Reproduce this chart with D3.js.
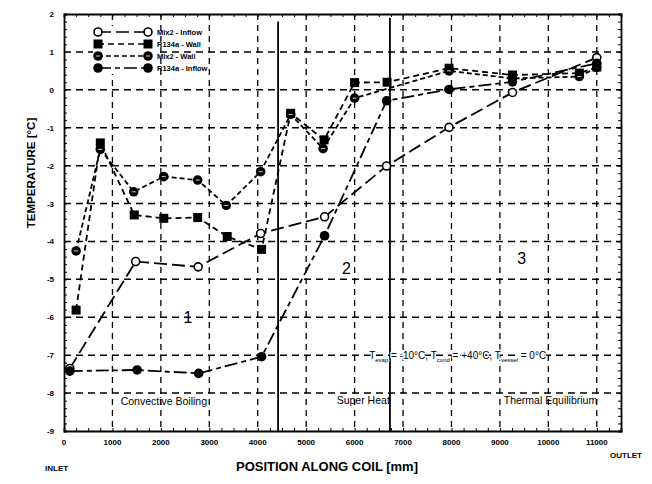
<!DOCTYPE html>
<html>
<head>
  <title>coilTemperature</title>
  <script src="https://d3js.org/d3.v7.min.js"></script>
  <style>
    body { margin: 0; background: #fff; overflow: hidden; }
    svg { display: block; }
    text { font-family: "Liberation Sans", Arial, sans-serif; }
  </style>
</head>
<body>
  <svg width="652" height="484" id="mainsvg"></svg>
  <script>
    // data: [position mm, temperature C]
    const mix2Inflow = [[120,-7.35],[1480,-4.53],[2770,-4.67],[4060,-3.79],[5380,-3.35],[6660,-2.01],[7950,-0.99],[9260,-0.07],[11000,0.85]];
    const r134aWall = [[250,-5.81],[750,-1.40],[1450,-3.30],[2060,-3.39],[2760,-3.37],[3370,-3.87],[4080,-4.21],[4680,-0.62],[5370,-1.32],[6000,0.19],[6670,0.20],[7950,0.57],[9260,0.39],[10640,0.44],[11000,0.60]];
    const mix2Wall = [[250,-4.25],[750,-1.57],[1440,-2.69],[2060,-2.29],[2760,-2.38],[3350,-3.05],[4060,-2.16],[4680,-0.65],[5350,-1.55],[6000,-0.22],[7950,0.50],[9260,0.30],[10640,0.35],[11000,0.59]];
    const r134aInflow = [[120,-7.42],[1510,-7.39],[2780,-7.48],[4080,-7.04],[5380,-3.85],[6660,-0.29],[7950,0.01],[9260,0.21],[11000,0.70]];

    const xTicks = [0,1000,2000,3000,4000,5000,6000,7000,8000,9000,10000,11000];
    const yTicks = [2,1,0,-1,-2,-3,-4,-5,-6,-7,-8,-9];
    const zoneBounds = [4420, 6730];
    const zoneNames = ['Convective Boiling', 'Super Heat', 'Thermal Equilibrium'];
    const zoneNumbers = ['1', '2', '3'];
    const legendNames = ['Mix2 - Inflow', 'R134a - Wall', 'Mix2 - Wall', 'R134a - Inflow'];

    const svg = d3.select('#mainsvg');
    const margin = { top: 14, left: 64, right: 31, bottom: 53 };
    const width = +svg.attr('width');
    const height = +svg.attr('height');
    const innerWidth = width - margin.left - margin.right;
    const innerHeight = height - margin.top - margin.bottom;

    const xScale = d3.scaleLinear().domain([0, 11500]).range([0, innerWidth]);
    const yScale = d3.scaleLinear().domain([-9, 2]).range([innerHeight, 0]);

    const g = svg.append('g').attr('transform', `translate(${margin.left},${margin.top})`);

    // dashed grid
    g.append('g').selectAll('line').data(xTicks.slice(1)).join('line')
      .attr('x1', d => xScale(d)).attr('x2', d => xScale(d))
      .attr('y1', 0).attr('y2', innerHeight)
      .attr('stroke', '#000').attr('stroke-width', 1.3).attr('stroke-dasharray', '6,5');
    g.append('g').selectAll('line').data(yTicks.slice(1, -1)).join('line')
      .attr('x1', 0).attr('x2', innerWidth)
      .attr('y1', d => yScale(d)).attr('y2', d => yScale(d))
      .attr('stroke', '#000').attr('stroke-width', 1.5).attr('stroke-dasharray', '7,5');

    // axes with inward minor ticks, labels drawn separately
    const minorX = d3.range(0, 11501, 250);
    const minorY = d3.range(-9, 2.001, 0.2);
    const noText = sel => sel.selectAll('text').remove();
    g.append('g').attr('transform', `translate(0,${innerHeight})`)
      .call(d3.axisBottom(xScale).tickValues(minorX).tickSize(-3)).call(noText);
    g.append('g').call(d3.axisTop(xScale).tickValues(minorX).tickSize(-3)).call(noText);
    g.append('g').call(d3.axisLeft(yScale).tickValues(minorY).tickSize(-3)).call(noText);
    g.append('g').attr('transform', `translate(${innerWidth},0)`)
      .call(d3.axisRight(yScale).tickValues(minorY).tickSize(-3)).call(noText);
    g.selectAll('.domain').attr('stroke-width', 1.8);

    g.append('g').selectAll('text').data(xTicks).join('text')
      .attr('x', d => xScale(d)).attr('y', innerHeight + 14)
      .attr('text-anchor', 'middle').attr('font-size', 8).attr('font-weight', 'bold')
      .text(d => d);
    g.append('g').selectAll('text').data(yTicks).join('text')
      .attr('x', -10).attr('y', d => yScale(d) + 3)
      .attr('text-anchor', 'end').attr('font-size', 8).attr('font-weight', 'bold')
      .text(d => d);

    // zone boundaries
    g.selectAll('.zone').data(zoneBounds).join('line').attr('class', 'zone')
      .attr('x1', d => xScale(d)).attr('x2', d => xScale(d))
      .attr('y1', (d, i) => yScale(i === 0 ? 1.8 : 1.9)).attr('y2', innerHeight)
      .attr('stroke', '#000').attr('stroke-width', 1.8);

    // series
    const seriesList = [
      { data: mix2Inflow, dash: '13,5', mark: 'open' },
      { data: r134aWall, dash: '6,4', mark: 'square' },
      { data: mix2Wall, dash: '5,3', mark: 'dotted' },
      { data: r134aInflow, dash: '13,4,5,4', mark: 'filled' }
    ];
    const line = d3.line().x(d => xScale(d[0])).y(d => yScale(d[1]));

    function drawMark(sel, mark) {
      if (mark === 'square') {
        sel.append('rect').attr('x', -4.5).attr('y', -4.5).attr('width', 9).attr('height', 9).attr('fill', '#000');
      } else if (mark === 'open') {
        sel.append('circle').attr('r', 4).attr('fill', '#fff').attr('stroke', '#000').attr('stroke-width', 1.6);
      } else if (mark === 'dotted') {
        sel.append('circle').attr('r', 4.8).attr('fill', '#000');
        sel.append('line').attr('x1', -2).attr('x2', 2).attr('stroke', '#fff').attr('stroke-width', 0.8);
      } else {
        sel.append('circle').attr('r', 4.8).attr('fill', '#000');
      }
    }

    seriesList.forEach(s => {
      g.append('path').datum(s.data).attr('d', line)
        .attr('fill', 'none').attr('stroke', '#000').attr('stroke-width', 1.8)
        .attr('stroke-dasharray', s.dash);
    });
    seriesList.forEach(s => {
      g.append('g').selectAll('g').data(s.data).join('g')
        .attr('transform', d => `translate(${xScale(d[0])},${yScale(d[1])})`)
        .each(function () { drawMark(d3.select(this), s.mark); });
    });

    // legend
    const legend = g.append('g').attr('transform', 'translate(34,18)');
    seriesList.forEach((s, i) => {
      const row = legend.append('g').attr('transform', `translate(0,${i * 12})`);
      row.append('rect').attr('x', -5).attr('y', -6).attr('width', 62).attr('height', 12).attr('fill', '#fff');
      row.append('line').attr('x1', 0).attr('x2', 50).attr('stroke', '#000').attr('stroke-width', 1.6)
        .attr('stroke-dasharray', s.dash);
      drawMark(row.append('g'), s.mark);
      drawMark(row.append('g').attr('transform', 'translate(50,0)'), s.mark);
      row.append('text').attr('x', 59).attr('y', 3).attr('font-size', 7.5).attr('font-weight', 'bold')
        .text(legendNames[i]);
    });

    // zone labels
    const zoneNumPos = [[2560, -6.15], [5830, -4.85], [9450, -4.6]];
    g.selectAll('.znum').data(zoneNumbers).join('text').attr('class', 'znum')
      .attr('x', (d, i) => xScale(zoneNumPos[i][0])).attr('y', (d, i) => yScale(zoneNumPos[i][1]))
      .attr('text-anchor', 'middle').attr('font-size', 16).text(d => d);
    const zoneNamePos = [[1170, -8.32], [5630, -8.3], [9080, -8.3]];
    g.selectAll('.zname').data(zoneNames).join('text').attr('class', 'zname')
      .attr('x', (d, i) => xScale(zoneNamePos[i][0])).attr('y', (d, i) => yScale(zoneNamePos[i][1]))
      .attr('font-size', 10.5).text(d => d);

    const cond = g.append('text').attr('x', xScale(6300)).attr('y', yScale(-7.1))
      .attr('font-size', 10).attr('stroke', '#fff').attr('stroke-width', 2.5).attr('paint-order', 'stroke');
    cond.append('tspan').text('T');
    cond.append('tspan').attr('font-size', 6).attr('dy', 3).text('evap');
    cond.append('tspan').attr('dy', -3).text(' = -10°C, T');
    cond.append('tspan').attr('font-size', 6).attr('dy', 3).text('cond');
    cond.append('tspan').attr('dy', -3).text(' = +40°C, T');
    cond.append('tspan').attr('font-size', 6).attr('dy', 3).text('vessel');
    cond.append('tspan').attr('dy', -3).text(' = 0°C');

    // axis titles
    svg.append('text').attr('transform', `translate(35,173) rotate(-90)`)
      .attr('text-anchor', 'middle').attr('font-size', 11.5).attr('font-weight', 'bold')
      .text('TEMPERATURE [°C]');
    svg.append('text').attr('x', 327).attr('y', 471).attr('text-anchor', 'middle')
      .attr('font-size', 13).attr('font-weight', 'bold').text('POSITION ALONG COIL [mm]');
    svg.append('text').attr('x', 45).attr('y', 471).attr('font-size', 8).attr('font-weight', 'bold').text('INLET');
    svg.append('text').attr('x', 610).attr('y', 458).attr('font-size', 8).attr('font-weight', 'bold').text('OUTLET');
  </script>
</body>
</html>
